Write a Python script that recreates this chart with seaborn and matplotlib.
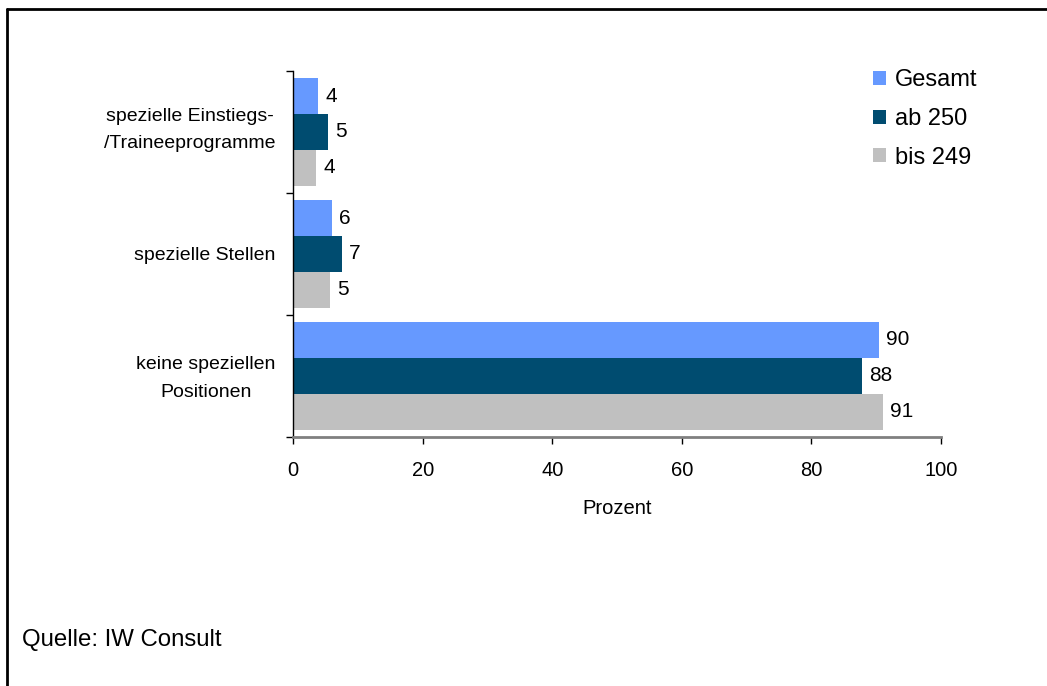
import matplotlib
matplotlib.use("Agg")
import matplotlib.pyplot as plt
import matplotlib.transforms as mtransforms
import seaborn as sns
import pandas as pd
import numpy as np

categories = ["spezielle Einstiegs-\n/Traineeprogramme", "spezielle Stellen", "keine speziellen\nPositionen"]
series = ["Gesamt", "ab 250", "bis 249"]
gesamt = [3.9, 6.0, 90.4]
ab250 = [5.4, 7.5, 87.8]
bis249 = [3.6, 5.7, 91.0]
labels_gesamt = ["4", "6", "90"]
labels_ab250 = ["5", "7", "88"]
labels_bis249 = ["4", "5", "91"]
colors = ["#6699FF", "#004C70", "#C0C0C0"]
xticks = [0, 20, 40, 60, 80, 100]

sns.set_theme(style="white")
plt.rcParams['font.family'] = ['Liberation Sans', 'DejaVu Sans']
plt.rcParams['text.color'] = 'black'
plt.rcParams['axes.labelcolor'] = 'black'
plt.rcParams['xtick.color'] = 'black'
plt.rcParams['ytick.color'] = 'black'

rows = []
for s, vals in zip(series, [gesamt, ab250, bis249]):
    for c, v in zip(categories, vals):
        rows.append({"Kategorie": c, "Serie": s, "Wert": v})
df = pd.DataFrame(rows)

fig = plt.figure(figsize=(10.47, 6.86), dpi=100)
ax = fig.add_axes([0.2799, 0.363, 0.6189, 0.5335])
sns.barplot(data=df, y="Kategorie", x="Wert", hue="Serie", order=categories,
            hue_order=series, palette=colors, orient="h", width=0.885,
            saturation=1, ax=ax, legend=True, linewidth=0)

for cont, labs in zip(ax.containers, [labels_gesamt, labels_ab250, labels_bis249]):
    ax.bar_label(cont, labels=labs, padding=5, fontsize=15, color="black")

ax.set_xlim(0, 100)
ax.set_ylim(2.5, -0.5)
ax.set_xticks(xticks)
ax.set_xticklabels([str(t) for t in xticks], fontsize=14.5)
ax.tick_params(axis="x", direction="out", length=5, width=1, color="black", pad=12, bottom=True)
ax.set_yticks(range(len(categories)))
ax.set_yticklabels(categories, fontsize=14, multialignment="center", linespacing=1.8)
ax.tick_params(axis="y", length=0, pad=12.5)
ax.set_yticks([-0.5, 0.5, 1.5, 2.5], minor=True)
ax.tick_params(axis="y", which="minor", direction="out", length=5, width=1, color="black", left=True)

# nudge multi-line labels up slightly
shifts = [9, 0, 4.5]
for lab, dy in zip(ax.get_yticklabels(), shifts):
    lab.set_transform(lab.get_transform() + mtransforms.ScaledTranslation(0, dy / 100, fig.dpi_scale_trans))

for sp in ["top", "right"]:
    ax.spines[sp].set_visible(False)
ax.spines["left"].set_color("black")
ax.spines["left"].set_linewidth(1)
ax.spines["bottom"].set_color("#808080")
ax.spines["bottom"].set_linewidth(2)
ax.set_ylabel("")
ax.set_xlabel("Prozent", fontsize=14.5, labelpad=14)

leg = ax.legend(loc="upper left", bbox_to_anchor=(0.88, 1.03), frameon=False,
                fontsize=17, handlelength=0.55, handleheight=0.55, labelspacing=0.7,
                handletextpad=0.4, borderaxespad=0)

fig.text(0.021, 0.067, "Quelle: IW Consult", fontsize=17.3, ha="left", va="center")

# frame lines on left and top
fig.add_artist(plt.Line2D([0.0068, 0.0068], [0, 0.987], color="black", lw=2, transform=fig.transFigure))
fig.add_artist(plt.Line2D([0.0068, 1.0], [0.987, 0.987], color="black", lw=2, transform=fig.transFigure))

fig.savefig("out.png", dpi=100, facecolor="white")
